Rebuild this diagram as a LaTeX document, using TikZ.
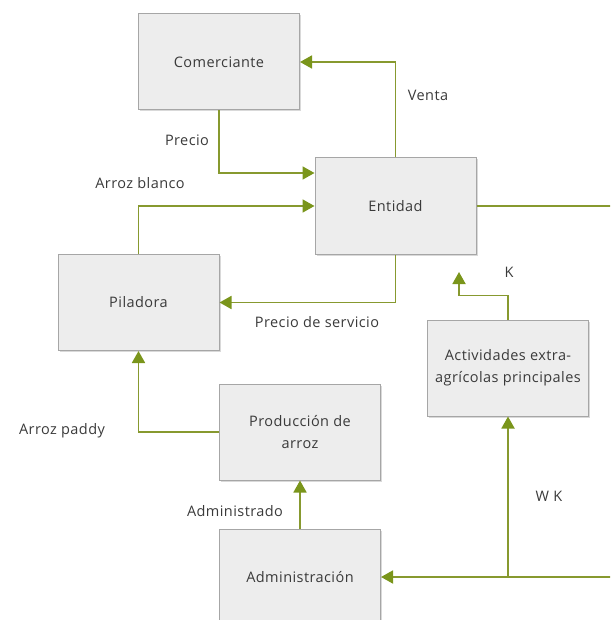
\documentclass[tikz,border=0pt]{standalone}
\usepackage{fontspec}
\setmainfont{Open Sans}[LetterSpace=3]
\usetikzlibrary{arrows.meta,shadows,calc}

\definecolor{boxfill}{HTML}{EDEDED}
\definecolor{boxline}{HTML}{A6A6A6}
\definecolor{flow}{HTML}{87992F}
\definecolor{tip}{HTML}{7A951B}
\definecolor{txt}{HTML}{3A3A3A}

\tikzset{
  block/.style={draw=boxline, line width=1pt, fill=boxfill,
    minimum width=161pt, minimum height=96pt, inner sep=0pt,
    align=center, text=txt, font=\fontsize{14.5}{22}\selectfont,
    drop shadow={shadow xshift=1.5pt, shadow yshift=-1.5pt, opacity=0.25, fill=black!60}},
  link/.style={draw=flow, line width=1.8pt,
    -{Triangle[width=13pt,length=12pt,color=tip]}},
  lbl/.style={text=txt, font=\fontsize{14.5}{17}\selectfont, inner sep=0pt}
}

\begin{document}
\begin{tikzpicture}[x=1pt, y=-1pt]
  \useasboundingbox (0,0) rectangle (610,620);
  \clip (0,0) rectangle (610,620);

  % boxes
  \node[block] (com)  at (219,62)     {Comerciante};
  \node[block] (ent)  at (395.5,206)  {Entidad};
  \node[block] (pil)  at (138.5,302.5){Piladora};
  \node[block] (act)  at (508,368)    {Actividades extra-\\agrícolas principales};
  \node[block] (prod) at (300,432)    {Producción de\\arroz};
  \node[block] (adm)  at (300,577)    {Administración};

  % off-page return path and free arrow end
  \coordinate (edge) at (625,206);
  \coordinate (kend) at (459,272);

  % connectors
  \draw[link] (ent.north) |- (com.east);
  \draw[link] (com.south) |- ($(ent.west)+(0,-33)$);
  \draw[link] (pil.north) |- (ent.west);
  \draw[link] (ent.south) |- (pil.east);
  \draw[link] (act.north) -- ++(0,-24) -| (kend);
  \draw[link] (prod.west) -| (pil.south);
  \draw[link] (adm.north) -- (prod.south);
  \draw[link] (ent.east) -- (edge) |- (adm.east);
  \draw[link] (act.south |- adm.east) -- (act.south);

  % labels
  \node[lbl] (lventa)  at (428,95)  {Venta};
  \node[lbl] (lprecio) at (187,140) {Precio};
  \node[lbl] (lblanco) at (140,183) {Arroz blanco};
  \node[lbl] (lk)      at (509,272) {K};
  \node[lbl] (lserv)   at (317,322) {Precio de servicio};
  \node[lbl] (lpaddy)  at (62,431)  {Arroz paddy};
  \node[lbl] (ladm)    at (235,511) {Administrado};
  \node[lbl] (lwk)     at (549,496) {W K};
\end{tikzpicture}
\end{document}
